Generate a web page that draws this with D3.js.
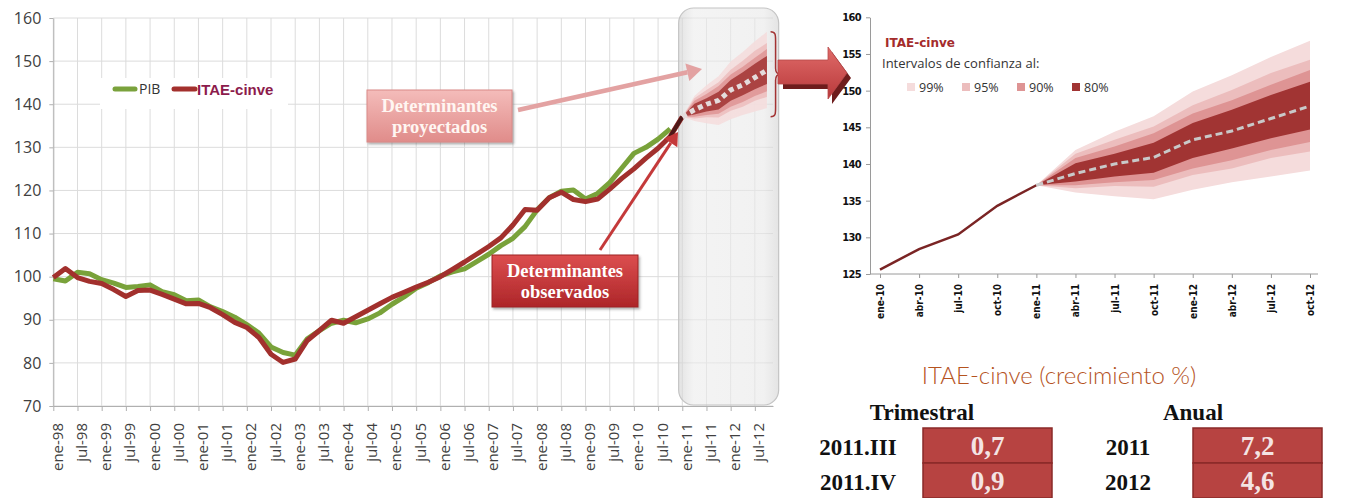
<!DOCTYPE html>
<html>
<head>
<meta charset="utf-8">
<script src="https://cdn.jsdelivr.net/npm/d3@7"></script>
<style>
body { margin: 0; background: #fff; }
svg { display: block; }
</style>
</head>
<body>
<svg id="chart" width="1349" height="498"></svg>
<script>
// ---- data (quarterly index, 1998 = 100) ----
var itaeObs = [99.8, 101.9, 99.8, 98.9, 98.4, 97.0, 95.4, 96.8, 96.9, 95.9,
    94.8, 93.7, 93.8, 92.8, 91.2, 89.4, 88.2, 85.9, 82.0, 80.1,
    80.9, 85.2, 87.5, 89.9, 89.2, 90.7, 92.2, 93.7, 95.2, 96.4,
    97.6, 98.7, 100.0, 101.7, 103.4, 105.2, 107.0, 109.0, 112.0, 115.6,
    115.4, 118.3, 119.6, 117.9, 117.4, 118.0, 120.3, 122.8, 125.0, 127.5,
    129.8, 132.5, 137.1];
var pibObs = [99.5, 99.0, 101.0, 100.7, 99.3, 98.5, 97.5, 97.7, 98.1, 96.5,
    95.8, 94.4, 94.6, 93.0, 91.9, 90.6, 88.9, 86.9, 83.7, 82.4,
    81.8, 85.6, 87.5, 89.2, 89.9, 89.3, 90.2, 91.6, 93.6, 95.3,
    97.3, 98.6, 100.2, 101.1, 101.8, 103.5, 105.2, 107.2, 108.9, 111.6,
    115.5, 118.3, 119.8, 120.1, 118.0, 119.3, 121.8, 125.2, 128.6, 130.0,
    131.9, 134.3];
var leftTickLabels = ["ene-98", "jul-98", "ene-99", "jul-99", "ene-00", "jul-00", "ene-01", "jul-01",
    "ene-02", "jul-02", "ene-03", "jul-03", "ene-04", "jul-04", "ene-05", "jul-05",
    "ene-06", "jul-06", "ene-07", "jul-07", "ene-08", "jul-08", "ene-09", "jul-09",
    "ene-10", "jul-10", "ene-11", "jul-11", "ene-12", "jul-12"];
var leftYTicks = [70, 80, 90, 100, 110, 120, 130, 140, 150, 160];

var rightCats = ["ene-10", "abr-10", "jul-10", "oct-10", "ene-11", "abr-11",
    "jul-11", "oct-11", "ene-12", "abr-12", "jul-12", "oct-12"];
var rightYTicks = [125, 130, 135, 140, 145, 150, 155, 160];
var obsCats = ["ene-10", "abr-10", "jul-10", "oct-10", "ene-11"];
var obsVals = [125.6, 128.4, 130.4, 134.3, 137.1];

var fcCats = ["ene-11", "abr-11", "jul-11", "oct-11", "ene-12", "abr-12", "jul-12", "oct-12"];
var fcCentral = [137.1, 138.7, 140.0, 140.9, 143.3, 144.5, 146.2, 147.9];
var b80lo = [137.1, 137.6, 138.3, 138.8, 140.8, 142.1, 143.5, 144.7];
var b80hi = [137.1, 140.1, 141.4, 142.9, 145.6, 147.4, 149.4, 151.2];
var b90lo = [137.1, 137.1, 137.5, 137.8, 139.4, 140.5, 141.9, 143.0];
var b90hi = [137.1, 140.8, 142.4, 144.2, 146.9, 148.7, 150.8, 152.8];
var b95lo = [137.1, 136.7, 137.0, 136.9, 138.5, 139.4, 140.8, 141.7];
var b95hi = [137.1, 141.4, 143.3, 145.1, 148.0, 150.1, 152.4, 154.2];
var b99lo = [137.1, 136.1, 135.6, 135.2, 136.5, 137.5, 138.3, 139.1];
var b99hi = [137.1, 141.9, 144.4, 146.5, 149.9, 152.1, 154.6, 156.8];

var trimLabels = ["2011.III", "2011.IV"];
var trimVals = ["0,7", "0,9"];
var anualLabels = ["2011", "2012"];
var anualVals = ["7,2", "4,6"];

var bands = [
    {name: "99%", lo: b99lo, hi: b99hi, color: "#f5dcdc"},
    {name: "95%", lo: b95lo, hi: b95hi, color: "#ecbdbd"},
    {name: "90%", lo: b90lo, hi: b90hi, color: "#de9494"},
    {name: "80%", lo: b80lo, hi: b80hi, color: "#a13433"}
];
var fcStart = itaeObs.length - 1; // ene-11 on the left quarter axis

var svg = d3.select("#chart");
var defs = svg.append("defs");

function vgrad(id, c1, c2) {
    var lg = defs.append("linearGradient").attr("id", id)
        .attr("x1", 0).attr("y1", 0).attr("x2", 0).attr("y2", 1);
    lg.append("stop").attr("offset", "0%").attr("stop-color", c1);
    lg.append("stop").attr("offset", "100%").attr("stop-color", c2);
}
vgrad("pinkBox", "#f4bcba", "#e08c8a");
vgrad("redBox", "#dc4e4f", "#ad2629");
vgrad("bigArrow", "#e06b69", "#b9393b");
var hg = defs.append("linearGradient").attr("id", "greyPanel")
    .attr("x1", 0).attr("y1", 0).attr("x2", 1).attr("y2", 0);
hg.append("stop").attr("offset", "0%").attr("stop-color", "#d0d0d0");
hg.append("stop").attr("offset", "15%").attr("stop-color", "#ececec");
hg.append("stop").attr("offset", "85%").attr("stop-color", "#e8e8e8");
hg.append("stop").attr("offset", "100%").attr("stop-color", "#d2d2d2");
defs.append("filter").attr("id", "shadow")
    .attr("x", "-10%").attr("y", "-10%").attr("width", "130%").attr("height", "140%")
    .append("feDropShadow").attr("dx", 1.5).attr("dy", 2).attr("stdDeviation", 1.2)
    .attr("flood-color", "#555").attr("flood-opacity", 0.45);

// ================= left chart =================
var xL = d3.scaleLinear().domain([0, 59.5]).range([53.3, 773]);
var yL = d3.scaleLinear().domain([70, 160]).range([406, 18]);
var gL = svg.append("g");

gL.append("g").selectAll("line").data(leftYTicks).join("line")
    .attr("x1", xL(0)).attr("x2", xL(59.5))
    .attr("y1", function(d) { return yL(d); }).attr("y2", function(d) { return yL(d); })
    .attr("stroke", "#dcdcdc");
gL.append("g").selectAll("line").data(leftTickLabels).join("line")
    .attr("x1", function(d, i) { return xL(i * 2); }).attr("x2", function(d, i) { return xL(i * 2); })
    .attr("y1", yL(70)).attr("y2", yL(160))
    .attr("stroke", "#dcdcdc");

var yAxisL = gL.append("g")
    .attr("transform", "translate(" + xL(0) + ",0)")
    .call(d3.axisLeft(yL).tickValues(leftYTicks).tickSize(4).tickPadding(8).tickSizeOuter(0));
yAxisL.select(".domain").attr("stroke", "#b0b0b0");
yAxisL.selectAll(".tick line").attr("stroke", "#b0b0b0");
yAxisL.selectAll("text").attr("font-family", "'Open Sans', sans-serif")
    .attr("font-size", 16).attr("fill", "#404040");

var xAxisL = gL.append("g")
    .attr("transform", "translate(0," + yL(70) + ")")
    .call(d3.axisBottom(xL).tickValues(d3.range(0, leftTickLabels.length * 2, 2))
        .tickFormat(function(d) { return leftTickLabels[d / 2]; })
        .tickSize(5).tickSizeOuter(0));
xAxisL.select(".domain").attr("stroke", "#b0b0b0");
xAxisL.selectAll(".tick line").attr("stroke", "#b0b0b0");
xAxisL.selectAll("text")
    .attr("transform", "rotate(-90)")
    .attr("text-anchor", "end")
    .attr("x", -17).attr("y", 0).attr("dy", "0.6em")
    .attr("font-family", "'Open Sans', sans-serif")
    .attr("font-size", 15).attr("fill", "#404040");

// legend (white background hides the grid)
gL.append("rect").attr("x", 100).attr("y", 78).attr("width", 188).attr("height", 31).attr("fill", "#fff");
gL.append("line").attr("x1", 115).attr("x2", 135).attr("y1", 89).attr("y2", 89)
    .attr("stroke", "#7aa23c").attr("stroke-width", 5).attr("stroke-linecap", "round");
gL.append("text").attr("x", 139).attr("y", 94).text("PIB")
    .attr("font-family", "'Open Sans', sans-serif").attr("font-size", 14).attr("fill", "#333");
gL.append("line").attr("x1", 174).attr("x2", 195).attr("y1", 89).attr("y2", 89)
    .attr("stroke", "#a3302d").attr("stroke-width", 5).attr("stroke-linecap", "round");
gL.append("text").attr("x", 197).attr("y", 94.5).text("ITAE-cinve")
    .attr("font-family", "'Liberation Sans', Arial, sans-serif").attr("font-weight", "bold")
    .attr("font-size", 15).attr("fill", "#8c1b4c");

// projection panel
gL.append("rect").attr("x", xL(51.7)).attr("y", 8).attr("width", 100).attr("height", 397)
    .attr("rx", 15).attr("ry", 15)
    .attr("fill", "url(#greyPanel)").attr("fill-opacity", 0.6)
    .attr("stroke", "#c4c4c4").attr("stroke-width", 1.2);

var lineL = d3.line()
    .x(function(d, i) { return xL(i); })
    .y(function(d) { return yL(d); });
gL.append("path").attr("d", lineL(pibObs)).attr("fill", "none")
    .attr("stroke", "#79a23a").attr("stroke-width", 5).attr("stroke-linejoin", "round");
gL.append("path").attr("d", lineL(itaeObs)).attr("fill", "none")
    .attr("stroke", "#a2302d").attr("stroke-width", 5).attr("stroke-linejoin", "round");

// fan on the left chart
var fanL = gL.append("g");
bands.forEach(function(b) {
    var area = d3.area()
        .x(function(d, i) { return xL(fcStart + i); })
        .y0(function(d, i) { return yL(b.lo[i]); })
        .y1(function(d, i) { return yL(b.hi[i]); });
    fanL.append("path").attr("d", area(fcCats)).attr("fill", b.color).attr("fill-opacity", 0.85);
});
var tailL = d3.line()
    .x(function(d, i) { return xL(fcStart - 1 + i); })
    .y(function(d) { return yL(d); });
fanL.append("path").attr("d", tailL(itaeObs.slice(fcStart - 1)))
    .attr("fill", "none").attr("stroke", "#4e1818").attr("stroke-width", 4);
fanL.append("path")
    .attr("d", d3.line().x(function(d, i) { return xL(fcStart + i); }).y(function(d) { return yL(d); })(fcCentral))
    .attr("fill", "none").attr("stroke", "#e4dcdc").attr("stroke-width", 5).attr("stroke-dasharray", "5,4");

// brace
var bx = xL(59.3), bTop = yL(d3.max(b99hi)), bBot = yL(fcCentral[0]), bMid = (bTop + bBot) / 2;
gL.append("path")
    .attr("d", "M" + bx + "," + bTop + " C" + (bx + 5) + "," + bTop + " " + (bx + 5) + "," + (bTop + 3) + " " + (bx + 5) + "," + (bTop + 9) +
        " L" + (bx + 5) + "," + (bMid - 6) + " C" + (bx + 5) + "," + (bMid - 2) + " " + (bx + 7) + "," + bMid + " " + (bx + 10) + "," + bMid +
        " C" + (bx + 7) + "," + bMid + " " + (bx + 5) + "," + (bMid + 2) + " " + (bx + 5) + "," + (bMid + 6) +
        " L" + (bx + 5) + "," + (bBot - 9) + " C" + (bx + 5) + "," + (bBot - 3) + " " + (bx + 5) + "," + bBot + " " + bx + "," + bBot)
    .attr("fill", "none").attr("stroke", "#a33333").attr("stroke-width", 1.5);

// callouts
function arrowLine(x1, y1, x2, y2, color, w, head) {
    var a = Math.atan2(y2 - y1, x2 - x1);
    var bx2 = x2 - head * Math.cos(a), by2 = y2 - head * Math.sin(a);
    gL.append("line").attr("x1", x1).attr("y1", y1).attr("x2", bx2).attr("y2", by2)
        .attr("stroke", color).attr("stroke-width", w);
    var px = -Math.sin(a) * head * 0.6, py = Math.cos(a) * head * 0.6;
    gL.append("path")
        .attr("d", "M" + x2 + "," + y2 + " L" + (bx2 + px) + "," + (by2 + py) + " L" + (bx2 - px) + "," + (by2 - py) + "Z")
        .attr("fill", color);
}
arrowLine(518, 110, 702, 69, "#e3a2a2", 4.5, 15);
arrowLine(600, 250, 678, 132, "#c4393a", 3, 13);

function callout(x, y, w, h, fill, stroke, lines, color) {
    gL.append("rect").attr("x", x).attr("y", y).attr("width", w).attr("height", h)
        .attr("fill", fill).attr("stroke", stroke).attr("stroke-width", 1)
        .attr("filter", "url(#shadow)");
    lines.forEach(function(t, i) {
        gL.append("text").attr("x", x + w / 2).attr("y", y + 22 + i * 21)
            .attr("text-anchor", "middle").text(t)
            .attr("font-family", "'Liberation Serif', 'Times New Roman', serif")
            .attr("font-weight", "bold").attr("font-size", 18.5).attr("fill", color);
    });
}
callout(367, 90, 145, 52, "url(#pinkBox)", "#d98a88", ["Determinantes", "proyectados"], "#fff6f2");
callout(492, 255, 146, 52, "url(#redBox)", "#9e2224", ["Determinantes", "observados"], "#fff");

// big arrow linking both charts
var ga = svg.append("g");
ga.append("path").attr("d", "M783,64 L832,64 L832,52 L851,78 L832,104 L832,89 L783,89 Z").attr("fill", "#6e1c1c");
ga.append("path").attr("d", "M778,60 L828,60 L828,47 L847,73 L828,99 L828,84 L778,84 Z")
    .attr("fill", "url(#bigArrow)").attr("stroke", "#b8494a").attr("stroke-width", 0.8);

// ================= right chart =================
var xR = d3.scalePoint().domain(rightCats).range([880, 1310]);
var yR = d3.scaleLinear().domain([125, 160]).range([274, 17.3]);
var gR = svg.append("g");

bands.forEach(function(b) {
    var area = d3.area()
        .x(function(d) { return xR(d); })
        .y0(function(d, i) { return yR(b.lo[i]); })
        .y1(function(d, i) { return yR(b.hi[i]); });
    gR.append("path").attr("d", area(fcCats)).attr("fill", b.color);
});
var lineR = d3.line()
    .x(function(d) { return xR(d[0]); })
    .y(function(d) { return yR(d[1]); });
gR.append("path").attr("d", lineR(d3.zip(obsCats, obsVals))).attr("fill", "none")
    .attr("stroke", "#7a2424").attr("stroke-width", 2.5);
gR.append("path").attr("d", lineR(d3.zip(fcCats, fcCentral))).attr("fill", "none")
    .attr("stroke", "#c9c9c9").attr("stroke-width", 3).attr("stroke-dasharray", "7,4");

var yAxisR = gR.append("g").attr("transform", "translate(870,0)")
    .call(d3.axisLeft(yR).tickValues(rightYTicks).tickSize(4).tickPadding(5).tickSizeOuter(0));
yAxisR.select(".domain").attr("stroke", "#9a9a9a");
yAxisR.selectAll(".tick line").attr("stroke", "#9a9a9a");
yAxisR.selectAll("text")
    .attr("font-family", "'DejaVu Sans Condensed', 'Liberation Sans Narrow', sans-serif")
    .attr("font-weight", "bold").attr("font-size", 11).attr("letter-spacing", -0.6).attr("fill", "#111");

var xAxisR = gR.append("g").attr("transform", "translate(0," + yR(125) + ")")
    .call(d3.axisBottom(xR).tickSize(4).tickSizeOuter(0));
xAxisR.select(".domain").attr("d", "M870,0H1318").attr("stroke", "#9a9a9a");
xAxisR.selectAll(".tick line").attr("stroke", "#9a9a9a");
xAxisR.selectAll("text")
    .attr("transform", "rotate(-90)")
    .attr("text-anchor", "end")
    .attr("x", -10).attr("y", 0).attr("dy", "0.35em")
    .attr("font-family", "'DejaVu Sans Condensed', 'Liberation Sans Narrow', sans-serif")
    .attr("font-weight", "bold").attr("font-size", 10).attr("fill", "#111");

gR.append("text").attr("x", 885).attr("y", 47).text("ITAE-cinve")
    .attr("font-family", "'DejaVu Sans', Verdana, sans-serif").attr("font-weight", "bold")
    .attr("font-size", 12).attr("fill", "#a42c2c");
gR.append("text").attr("x", 882).attr("y", 68).text("Intervalos de confianza al:")
    .attr("font-family", "'Open Sans', sans-serif").attr("font-size", 13).attr("fill", "#333");
var legR = gR.append("g").selectAll("g").data(bands).join("g")
    .attr("transform", function(d, i) { return "translate(" + (907 + i * 55) + ",83)"; });
legR.append("rect").attr("width", 8).attr("height", 8).attr("fill", function(d) { return d.color; });
legR.append("text").attr("x", 12).attr("y", 8.5).text(function(d) { return d.name; })
    .attr("font-family", "'Open Sans', sans-serif").attr("font-size", 12.5).attr("fill", "#333");

// ================= growth table =================
var gT = svg.append("g");
gT.append("text").attr("x", 1059).attr("y", 384).attr("text-anchor", "middle")
    .text("ITAE-cinve (crecimiento %)")
    .attr("font-family", "Lato, 'Open Sans', sans-serif").attr("font-weight", 300)
    .attr("font-size", 24).attr("fill", "#b5531e");

var serif = "'Liberation Serif', 'Times New Roman', serif";
gT.append("text").attr("x", 922).attr("y", 420).attr("text-anchor", "middle").text("Trimestral")
    .attr("font-family", serif).attr("font-weight", "bold").attr("font-size", 23).attr("fill", "#111");
gT.append("text").attr("x", 1193).attr("y", 420).attr("text-anchor", "middle").text("Anual")
    .attr("font-family", serif).attr("font-weight", "bold").attr("font-size", 23).attr("fill", "#111");

function tableCol(labels, vals, lx, bx) {
    labels.forEach(function(t, i) {
        var y = 428 + i * 35;
        gT.append("text").attr("x", lx).attr("y", y + 27).attr("text-anchor", "middle").text(t)
            .attr("font-family", serif).attr("font-weight", "bold").attr("font-size", 23).attr("fill", "#111");
        gT.append("rect").attr("x", bx).attr("y", y).attr("width", 129).attr("height", 35)
            .attr("fill", "#b74341").attr("stroke", "#8a2a28").attr("stroke-width", 1.5);
        gT.append("text").attr("x", bx + 64.5).attr("y", y + 27).attr("text-anchor", "middle").text(vals[i])
            .attr("font-family", serif).attr("font-weight", "bold").attr("font-size", 27).attr("fill", "#f4e4e4");
    });
}
tableCol(trimLabels, trimVals, 858, 923);
tableCol(anualLabels, anualVals, 1128, 1193);
</script>
</body>
</html>
